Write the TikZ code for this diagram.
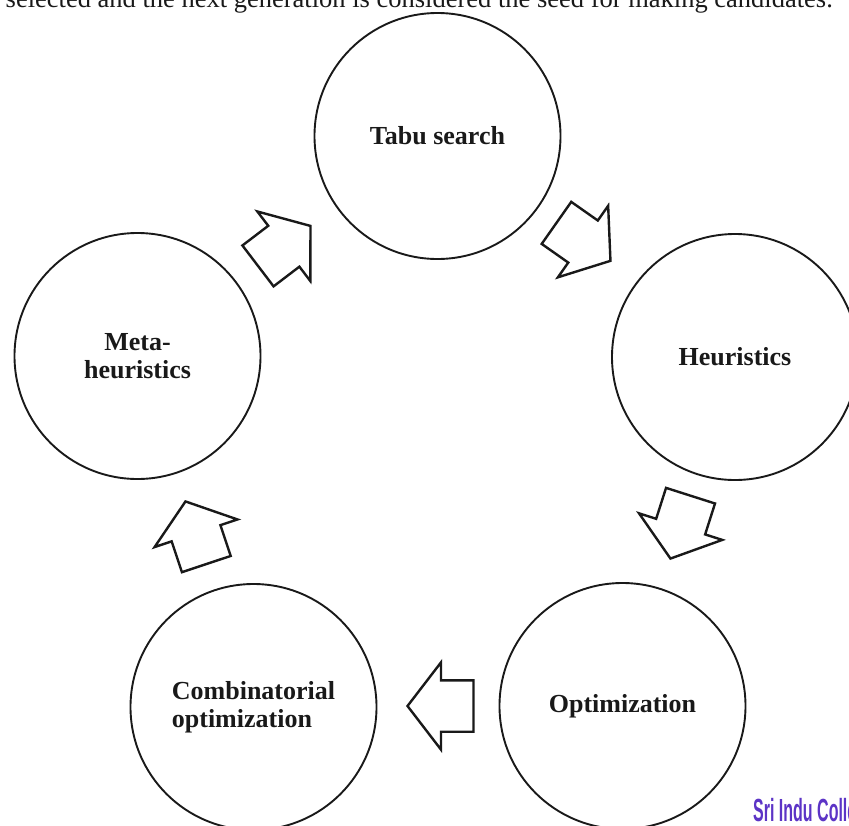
\documentclass[tikz,border=0pt]{standalone}
\usepackage{fontspec}
\setmainfont{Liberation Serif}
\newfontfamily\logofont{Liberation Sans}
\usetikzlibrary{shapes.arrows}
\definecolor{ink}{RGB}{25,25,25}
\definecolor{logopurple}{RGB}{92,52,198}
\begin{document}
\begin{tikzpicture}[x=1pt,y=-1pt,
  circ/.style={draw=ink, line width=1.9pt, circle, minimum size=246pt, inner sep=0pt,
    font=\fontsize{26}{27.5}\selectfont\bfseries, text=ink},
  blockarrow/.style={draw=ink, line width=2.4pt, single arrow, inner xsep=0pt, inner ysep=24.5pt,
    single arrow head extend=18pt, minimum width=86pt, minimum height=66pt,
    single arrow tip angle=105, anchor=tip}]
\useasboundingbox (0,0) rectangle (849,825);
\begin{scope}
\clip (0,0) rectangle (849,825);
\node[anchor=base east, inner sep=0pt, font=\fontsize{26.5}{30}\selectfont, text=ink] (caption) at (833,7.5)
  {are selected and the next generation is considered the seed for making candidates.};
% circles
\node[circ] (tabu) at (437.5,136) {Tabu search};
\node[circ] (heur) at (735,357) {Heuristics};
\node[circ, align=center] (meta) at (137.5,356) {Meta-\\heuristics};
\node[circ, align=left] (comb) at (253.5,707) {Combinatorial\\optimization};
\node[circ] (opt) at (622.5,706) {Optimization};
% block arrows
\node[blockarrow, rotate=37.3] (a1) at (311.7,225) {};
\node[blockarrow, rotate=-35.1] (a2) at (611.7,261.7) {};
\node[blockarrow, rotate=-107.7] (a3) at (670,560) {};
\node[blockarrow, rotate=180] (a4) at (406,706) {};
\node[blockarrow, rotate=108.4] (a5) at (185,500) {};
% watermark
\node[anchor=base west, inner sep=0pt, text=logopurple, font=\logofont\bfseries\fontsize{32}{32}\selectfont] (logo) at (753,821)
  {\scalebox{0.5}[1]{Sri Indu College}};
\end{scope}
\end{tikzpicture}
\end{document}
